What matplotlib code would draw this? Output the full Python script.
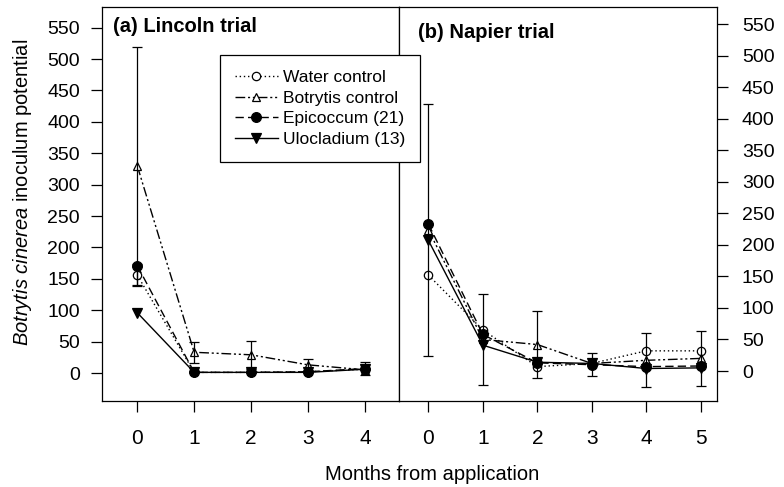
import matplotlib

matplotlib.use("Agg")

import matplotlib.pyplot as plt

plt.rcParams["font.family"] = ["Liberation Sans", "DejaVu Sans"]
plt.rcParams["mathtext.fontset"] = "custom"
plt.rcParams["mathtext.rm"] = "Liberation Sans"
plt.rcParams["mathtext.it"] = "Liberation Sans:italic"

# Lincoln trial (panel a)
months_a = [0, 1, 2, 3, 4]
water_a = [156, 1, 1, 2, 6]
water_a_err = [18, 0, 0, 0, 0]
botrytis_a = [330, 33, 29, 13, 5]
botrytis_a_err = [190, 17, 22, 9, 0]
epicoccum_a = [171, 1, 1, 2, 7]
epicoccum_a_err = [0, 0, 0, 0, 10]
ulocladium_a = [96, 1, 1, 1, 6]
ulocladium_a_err = [0, 0, 0, 0, 0]

# Napier trial (panel b)
months_b = [0, 1, 2, 3, 4, 5]
water_b = [152, 65, 7, 12, 32, 32]
water_b_err = [0, 0, 0, 0, 0, 0]
botrytis_b = [224, 50, 42, 12, 17, 20]
botrytis_b_err = [200, 72, 53, 0, 43, 43]
epicoccum_b = [233, 58, 13, 10, 7, 8]
epicoccum_b_err = [0, 0, 0, 18, 0, 0]
ulocladium_b = [207, 41, 14, 12, 4, 5]
ulocladium_b_err = [0, 0, 0, 0, 0, 0]

series_names = ["Water control", "Botrytis control", "Epicoccum (21)", "Ulocladium (13)"]
yticks = list(range(0, 551, 50))

styles = [
    dict(linestyle=(0, (1, 2)), marker="o", mfc="white", ms=6),
    dict(linestyle=(0, (7, 2, 1.5, 2, 1.5, 2)), marker="^", mfc="white", ms=6),
    dict(linestyle=(0, (6, 3)), marker="o", mfc="black", ms=7),
    dict(linestyle="-", marker="v", mfc="black", ms=7),
]


def draw_panel(ax, x, values, errors):
    handles = []
    for vals, errs, style in zip(values, errors, styles):
        (line,) = ax.plot(x, vals, color="black", lw=1.0, mec="black", mew=0.9, **style)
        handles.append(line)
        xs = [xi for xi, e in zip(x, errs) if e > 0]
        ys = [v for v, e in zip(vals, errs) if e > 0]
        es = [e for e in errs if e > 0]
        if xs:
            ax.errorbar(xs, ys, yerr=es, fmt="none", ecolor="black",
                        elinewidth=0.9, capsize=3.5, capthick=0.9)
    for side in ax.spines.values():
        side.set_linewidth(0.9)
    return handles


fig = plt.figure(figsize=(7.84, 4.87), dpi=100)
W, H = 784, 487
ax_a = fig.add_axes([102 / W, 1 - 401 / H, (399 - 102) / W, 394 / H])
ax_b = fig.add_axes([399 / W, 1 - 401 / H, (717 - 399) / W, 394 / H])

handles = draw_panel(
    ax_a, months_a,
    [water_a, botrytis_a, epicoccum_a, ulocladium_a],
    [water_a_err, botrytis_a_err, epicoccum_a_err, ulocladium_a_err],
)
draw_panel(
    ax_b, months_b,
    [water_b, botrytis_b, epicoccum_b, ulocladium_b],
    [water_b_err, botrytis_b_err, epicoccum_b_err, ulocladium_b_err],
)

ax_a.set_xlim(-0.62, 4.6)
ax_a.set_ylim(-44.6, 583)
ax_b.set_xlim(-0.54, 5.3)
ax_b.set_ylim(-47.5, 577)

ax_a.set_xticks(months_a)
ax_b.set_xticks(months_b)
ax_a.set_yticks(yticks)
ax_b.set_yticks(yticks)
ax_b.yaxis.tick_right()

for ax in (ax_a, ax_b):
    ax.tick_params(axis="x", direction="out", length=8, width=0.9, pad=12, labelsize=15)
    ax.tick_params(axis="y", direction="out", length=8, width=0.9, labelsize=14)
ax_a.tick_params(axis="y", pad=8)
ax_b.tick_params(axis="y", pad=10)

fig.text(113 / W, 1 - 27 / H, "(a) Lincoln trial",
         fontsize=14.5, fontweight="bold", ha="left", va="center")
fig.text(418 / W, 1 - 32 / H, "(b) Napier trial",
         fontsize=14.5, fontweight="bold", ha="left", va="center")

fig.text(432 / W, 1 - 475 / H, "Months from application", fontsize=14.5,
         ha="center", va="center")
fig.text(23 / W, 1 - 192 / H, r"$\mathit{Botrytis\ cinerea}$ inoculum potential",
         fontsize=14.5, rotation=90, ha="center", va="center")

leg = fig.legend(handles, series_names, loc="upper left",
                 bbox_to_anchor=(220 / W, 1 - 55 / H), borderaxespad=0,
                 fontsize=12.5, handlelength=2.5, handletextpad=0.3,
                 labelspacing=0.32, borderpad=0.85, fancybox=False,
                 framealpha=1, edgecolor="black")
leg.get_frame().set_linewidth(0.9)

fig.savefig("out.png", dpi=100)
